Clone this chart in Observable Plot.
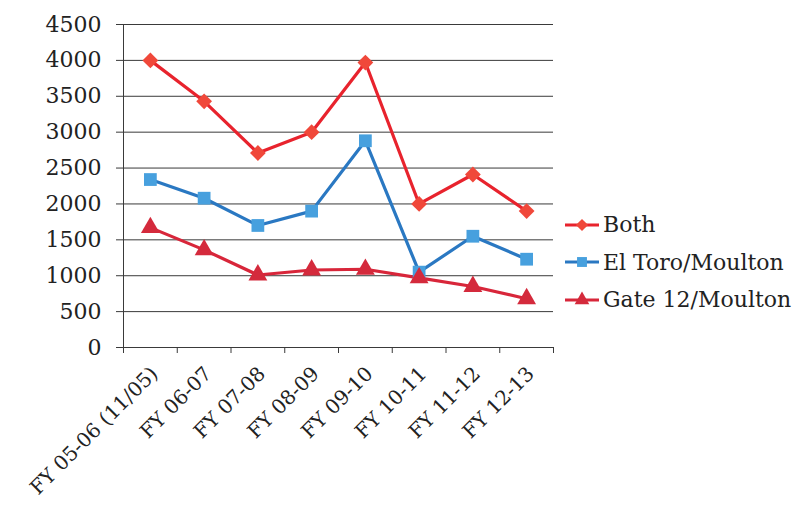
<!DOCTYPE html>
<html>
<head>
<meta charset="utf-8">
<script src="https://cdn.jsdelivr.net/npm/d3@7"></script>
<script src="https://cdn.jsdelivr.net/npm/@observablehq/plot@0.6"></script>
<style>
  html, body { margin: 0; padding: 0; background: #fff; }
  #wrap { position: relative; width: 792px; height: 506px; overflow: hidden; font-family: "DejaVu Serif", serif; }
  #chart { position: absolute; left: 0; top: 0; }
  #legend { position: absolute; left: 562px; top: 206px; font-size: 22px; color: #222; }
  .row { display: flex; align-items: center; height: 37.5px; }
  .row svg { margin-right: 1px; }
</style>
</head>
<body>
<div id="wrap">
  <div id="chart"></div>
  <div id="legend"></div>
</div>
<script>
const categories = ["FY 05-06 (11/05)", "FY 06-07", "FY 07-08", "FY 08-09", "FY 09-10", "FY 10-11", "FY 11-12", "FY 12-13"];
const seriesNames = ["Both", "El Toro/Moulton", "Gate 12/Moulton"];
const both = [4000, 3430, 2710, 3000, 3970, 2000, 2410, 1900];
const elToro = [2340, 2080, 1700, 1900, 2880, 1050, 1550, 1230];
const gate12 = [1670, 1360, 1010, 1080, 1090, 970, 850, 680];
const yTicks = [0, 500, 1000, 1500, 2000, 2500, 3000, 3500, 4000, 4500];

const lineColors = ["#e8232d", "#2a78c2", "#d8263a"];
const markColors = ["#f0483a", "#47a0de", "#d42a3c"];

const squareDiamond = {
  draw(context, size) {
    const h = Math.sqrt(size / 2);
    context.moveTo(0, -h);
    context.lineTo(h, 0);
    context.lineTo(0, h);
    context.lineTo(-h, 0);
    context.closePath();
  }
};
const symbols = [squareDiamond, d3.symbolSquare, d3.symbolTriangle];
const symbolR = [6.3, 7.2, 7.0];

const allValues = [both, elToro, gate12];
const data = [];
allValues.forEach((vals, s) => vals.forEach((v, i) => data.push({i, cat: categories[i], series: seriesNames[s], value: v})));

const font = "DejaVu Serif, serif";

const marks = [
  Plot.gridY(yTicks, {stroke: "#3a3a3a", strokeOpacity: 1, strokeWidth: 1}),
  Plot.axisY({ticks: yTicks, tickSize: 7, tickPadding: 15, fontSize: 22, stroke: "#3a3a3a", label: null, fill: "#222", tickFormat: d => String(d)}),
  Plot.ruleX([-0.5], {y1: 0, y2: 4500, stroke: "#3a3a3a"}),
  Plot.ruleY([0], {stroke: "#3a3a3a"}),
  Plot.axisX({ticks: d3.range(-0.5, 8, 1), tickSize: 6, tickFormat: () => "", stroke: "#3a3a3a", label: null}),
  Plot.axisX({ticks: d3.range(0, 8), tickSize: 0, tickPadding: 23, tickRotate: -45, fontSize: 20, fill: "#222",
    tickFormat: i => categories[i], label: null, dx: 4})
];
seriesNames.forEach((name, s) => {
  const sub = data.filter(d => d.series === name);
  marks.push(Plot.line(sub, {x: "i", y: "value", stroke: lineColors[s], strokeWidth: 3.2}));
});
seriesNames.forEach((name, s) => {
  const sub = data.filter(d => d.series === name);
  marks.push(Plot.dot(sub, {x: "i", y: "value", symbol: () => symbols[s], fill: markColors[s], r: symbolR[s], stroke: "none"}));
});

const chart = Plot.plot({
  width: 560,
  height: 506,
  marginLeft: 123,
  marginRight: 7,
  marginTop: 24,
  marginBottom: 159,
  style: {fontFamily: font, background: "transparent", overflow: "visible"},
  x: {type: "linear", domain: [-0.5, 7.5], axis: null},
  y: {domain: [0, 4500], axis: null},
  symbol: {type: "identity"},
  marks
});
document.getElementById("chart").appendChild(chart);

const legend = document.getElementById("legend");
seriesNames.forEach((name, s) => {
  const row = document.createElement("div");
  row.className = "row";
  const sym = d3.symbol(symbols[s], Math.PI * symbolR[s] * symbolR[s] * 0.6)();
  row.innerHTML = `<svg width="40" height="20"><line x1="3" x2="37" y1="10" y2="10" stroke="${lineColors[s]}" stroke-width="3"/><path d="${sym}" transform="translate(20,10)" fill="${markColors[s]}"/></svg><span>${name}</span>`;
  legend.appendChild(row);
});
</script>
</body>
</html>
